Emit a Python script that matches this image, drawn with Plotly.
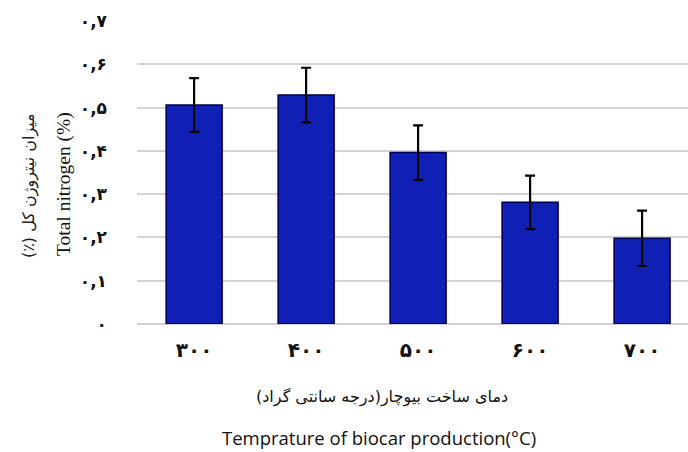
import plotly.graph_objects as go

categories = ["۳۰۰", "۴۰۰", "۵۰۰", "۶۰۰", "۷۰۰"]
nitrogen = [0.506, 0.529, 0.396, 0.281, 0.198]
errors = [0.062, 0.063, 0.063, 0.062, 0.064]
y_tick_vals = [0, 0.1, 0.2, 0.3, 0.4, 0.5, 0.6, 0.7]
y_tick_text = ["۰", "۰,۱", "۰,۲", "۰,۳", "۰,۴", "۰,۵", "۰,۶", "۰,۷"]

RLE, PDF = "\u202b", "\u202c"
x_title_fa = RLE + "دمای ساخت بیوچار(درجه سانتی گراد)" + PDF
x_title_en = "Temprature of biocar production(°C)"
y_title_fa = RLE + "میزان نیتروژن کل (٪)" + PDF
y_title_en = "Total nitrogen (%)"

fig = go.Figure()
fig.add_trace(go.Bar(
    x=list(range(len(categories))),
    y=nitrogen,
    marker=dict(color="#1020b4", line=dict(color="#000050", width=1.5)),
    error_y=dict(type="data", array=errors, visible=True,
                 color="#000000", thickness=2.2, width=5),
    width=0.5,
))

fig.update_layout(
    width=688, height=452,
    margin=dict(l=137, r=0, t=21, b=128),
    paper_bgcolor="white", plot_bgcolor="white",
    showlegend=False,
    font=dict(family="DejaVu Sans", color="#111111"),
    xaxis=dict(
        tickmode="array",
        tickvals=list(range(len(categories))),
        ticktext=categories,
        range=[-0.51, 4.41],
        showgrid=False, zeroline=False, showline=False,
        ticks="",
        tickfont=dict(family="DejaVu Sans", size=20, color="#111111", weight="bold"),
        ticklabelstandoff=12,
    ),
    yaxis=dict(
        range=[0, 0.7],
        tickmode="array",
        tickvals=y_tick_vals,
        ticktext=y_tick_text,
        showgrid=True, gridcolor="#d4d4d4", gridwidth=1.5,
        zeroline=True, zerolinecolor="#cfcfcf", zerolinewidth=1.5,
        showline=False, ticks="",
        tickfont=dict(family="DejaVu Sans", size=17, color="#111111", weight="bold"),
        ticklabelstandoff=29,
    ),
)

common = dict(xref="paper", yref="paper", showarrow=False,
              xanchor="center", yanchor="middle")
fig.add_annotation(text=x_title_fa, x=(382 - 137) / 551, y=(324 - 397) / 303,
                   font=dict(family="DejaVu Sans", size=16, color="#111111"), **common)
fig.add_annotation(text=x_title_en, x=(379 - 137) / 551, y=(324 - 437) / 303,
                   font=dict(family="Open Sans", size=18.5, color="#111111"), **common)
fig.add_annotation(text=y_title_fa, x=(29 - 137) / 551, y=(324 - 186) / 303,
                   textangle=-90,
                   font=dict(family="DejaVu Sans", size=16, color="#222222"), **common)
fig.add_annotation(text=y_title_en, x=(64 - 137) / 551, y=(324 - 184) / 303,
                   textangle=-90,
                   font=dict(family="Liberation Serif", size=19.5, color="#111111"), **common)

fig.write_html("out.html")
